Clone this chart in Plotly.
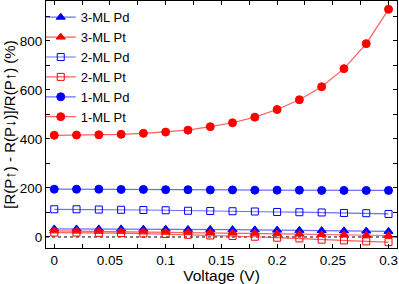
import plotly.graph_objects as go

voltage = [0, 0.02, 0.04, 0.06, 0.08, 0.10, 0.12, 0.14, 0.16, 0.18, 0.20, 0.22, 0.24, 0.26, 0.28, 0.30]

ml3_pd = [33, 33, 33, 33, 32, 32, 31, 31, 30, 29, 28, 27, 26, 25, 24, 23]
ml3_pt = [25, 24, 23, 22, 21, 20, 19, 18, 16, 15, 13, 12, 10, 9, 7, 6]
ml2_pd = [113, 113, 112, 111, 110, 109, 107, 106, 105, 104, 102, 101, 100, 98, 97, 94]
ml2_pt = [18, 18, 17, 16, 14, 12, 9, 6, 4, 1, -3, -6, -11, -14, -18, -21]
ml1_pd = [195, 195, 195, 194, 194, 193, 193, 192, 192, 191, 191, 191, 190, 190, 190, 190]
ml1_pt = [415, 416, 417, 419, 423, 428, 436, 450, 466, 489, 520, 560, 613, 687, 789, 929]

series = [
    ("3-ML Pd", ml3_pd, "blue", "triangle-up", 8),
    ("3-ML Pt", ml3_pt, "red", "triangle-up", 8),
    ("2-ML Pd", ml2_pd, "blue", "square-open", 7),
    ("2-ML Pt", ml2_pt, "red", "square-open", 7),
    ("1-ML Pd", ml1_pd, "blue", "circle", 8),
    ("1-ML Pt", ml1_pt, "red", "circle", 8),
]

FONT = "Liberation Sans, Arial, sans-serif"

fig = go.Figure()

# zero reference line (dotted)
fig.add_hline(y=0, line=dict(color="black", width=1, dash="dot"), layer="below")

light = {"blue": "rgba(60,60,255,0.75)", "red": "rgba(255,40,40,0.75)"}
for name, vals, col, sym, sz in series:
    fig.add_trace(go.Scatter(
        x=voltage, y=vals, name=name, mode="lines+markers",
        line=dict(color=light[col], width=1.2),
        marker=dict(symbol=sym, size=sz, color=col, line=dict(color=col, width=1)),
    ))

axis_common = dict(
    showline=True, linecolor="black", linewidth=1, mirror="ticks",
    ticks="inside", ticklen=4, tickcolor="black", showgrid=False, zeroline=False,
    tickfont=dict(family=FONT, size=13.5, color="black"),
)

fig.update_xaxes(range=[-0.0074, 0.3076], tickvals=[0, 0.05, 0.1, 0.15, 0.2, 0.25, 0.3],
                 ticktext=["0", "0.05", "0.1", "0.15", "0.2", "0.25", "0.3"],
                 minor=dict(dtick=0.025, tick0=0, ticks="inside", ticklen=4, tickcolor="black"),
                 title=dict(text="Voltage (V)", standoff=3,
                            font=dict(family=FONT, size=15.5, color="black")),
                 **axis_common)
fig.update_yaxes(range=[-45, 963], tickvals=[0, 200, 400, 600, 800],
                 minor=dict(dtick=100, tick0=0, ticks="inside", ticklen=4, tickcolor="black"),
                 title=dict(text="[R(P↑) - R(P↓)]/R(P↑) (%)", standoff=0,
                            font=dict(family=FONT, size=15, color="black")),
                 **axis_common)

fig.update_layout(
    width=399, height=284,
    margin=dict(l=46, r=2, t=1, b=36, autoexpand=False),
    paper_bgcolor="white", plot_bgcolor="white",
    font=dict(family=FONT, color="black"),
    legend=dict(x=-0.015, y=0.995, xanchor="left", yanchor="top",
                bgcolor="rgba(0,0,0,0)", borderwidth=0,
                font=dict(size=13, family=FONT),
                itemwidth=30, tracegroupgap=0),
    showlegend=True,
)

fig.write_html("out.html", config={"displayModeBar": False},
               post_script="document.body.style.margin='0';document.body.style.padding='0';")
